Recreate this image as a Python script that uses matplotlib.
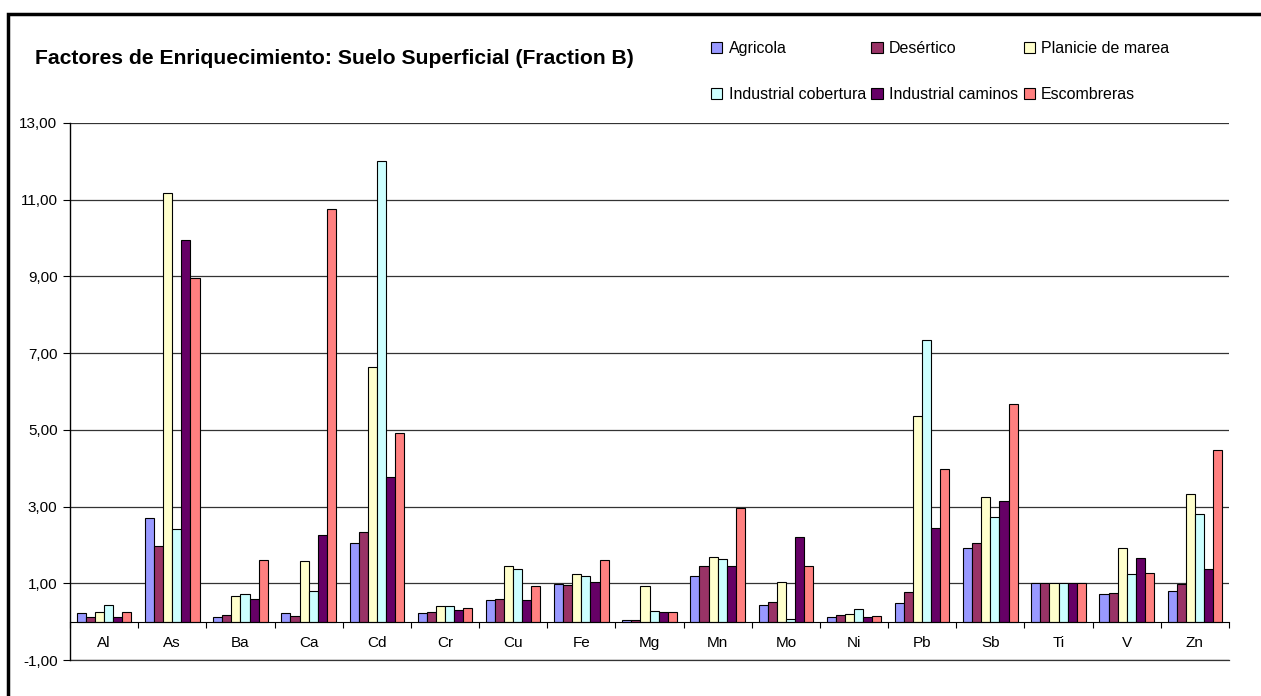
import numpy as np
import matplotlib
matplotlib.use("Agg")
import matplotlib.pyplot as plt
from matplotlib.patches import Rectangle
from matplotlib.ticker import FuncFormatter, FixedLocator

plt.rcParams['font.family'] = ['Liberation Sans', 'DejaVu Sans']

elements = ['Al', 'As', 'Ba', 'Ca', 'Cd', 'Cr', 'Cu', 'Fe', 'Mg', 'Mn',
            'Mo', 'Ni', 'Pb', 'Sb', 'Ti', 'V', 'Zn']

agricola     = [0.22, 2.69, 0.13, 0.22, 2.06, 0.22, 0.57, 0.98, 0.03, 1.20, 0.44, 0.13, 0.49, 1.93, 1.00, 0.71, 0.79]
desertico    = [0.13, 1.96, 0.17, 0.14, 2.34, 0.24, 0.60, 0.95, 0.03, 1.44, 0.52, 0.17, 0.76, 2.06, 1.00, 0.74, 0.98]
planicie     = [0.24, 11.18, 0.68, 1.57, 6.64, 0.42, 1.44, 1.25, 0.92, 1.69, 1.03, 0.20, 5.37, 3.26, 1.00, 1.91, 3.34]
ind_cobert   = [0.44, 2.42, 0.71, 0.79, 12.02, 0.42, 1.36, 1.20, 0.29, 1.63, 0.06, 0.33, 7.35, 2.74, 1.00, 1.25, 2.80]
ind_caminos  = [0.11, 9.96, 0.60, 2.25, 3.77, 0.30, 0.57, 1.03, 0.24, 1.46, 2.20, 0.11, 2.44, 3.15, 1.00, 1.66, 1.37]
escombreras  = [0.24, 8.95, 1.60, 10.76, 4.91, 0.35, 0.92, 1.60, 0.24, 2.96, 1.46, 0.16, 3.99, 5.68, 1.00, 1.28, 4.48]

series = [
    ('Agricola', agricola, '#9999FF'),
    ('Desértico', desertico, '#993366'),
    ('Planicie de marea', planicie, '#FFFFCC'),
    ('Industrial cobertura', ind_cobert, '#CCFFFF'),
    ('Industrial caminos', ind_caminos, '#660066'),
    ('Escombreras', escombreras, '#FF8080'),
]

W, H = 1261, 696
fig = plt.figure(figsize=(W / 100, H / 100), dpi=100)
ax = fig.add_axes([70 / W, 1 - 660 / H, (1229 - 70) / W, (660 - 123) / H])

x = np.arange(len(elements))
bw = 0.8 / len(series)
handles = []
for k, (name, vals, col) in enumerate(series):
    b = ax.bar(x - 0.4 + bw * (k + 0.5), vals, width=bw, color=col,
               edgecolor='black', linewidth=0.8, label=name, zorder=3)
    handles.append(b)

ax.set_xlim(-0.5, len(elements) - 0.5)
ax.set_ylim(-1, 13)
ax.set_yticks(np.arange(-1, 14, 2))
ax.yaxis.set_major_formatter(FuncFormatter(lambda v, p: f"{v:.2f}".replace('.', ',')))
ax.grid(axis='y', color='#333333', linewidth=0.9, zorder=0)
ax.set_axisbelow(True)
# bottom gridline sits on the axes edge, draw it unclipped
ax.axhline(-1, color='#333333', linewidth=0.9, clip_on=False, zorder=1)

for s in ['top', 'right']:
    ax.spines[s].set_visible(False)
ax.spines['bottom'].set_position(('data', 0))
ax.spines['bottom'].set_zorder(4)
ax.spines['left'].set_linewidth(1.0)

# category ticks between groups, labels under each group
ax.xaxis.set_major_locator(FixedLocator(np.arange(-0.5, len(elements), 1)))
ax.xaxis.set_major_formatter(FuncFormatter(lambda v, p: ''))
ax.xaxis.set_minor_locator(FixedLocator(x))
ax.set_xticklabels(elements, minor=True)
ax.tick_params(axis='x', which='major', length=4, width=0.8, direction='out')
ax.tick_params(axis='x', which='minor', length=0, pad=10, labelsize=11)
ax.tick_params(axis='y', length=5, width=0.8, labelsize=11, pad=4)

fig.text(35 / W, 1 - 58 / H, 'Factores de Enriquecimiento: Suelo Superficial (Fraction B)',
         fontsize=15.2, fontweight='bold', va='center', ha='left')

order = [0, 3, 1, 4, 2, 5]
fig.legend([handles[i] for i in order], [series[i][0] for i in order],
           ncol=3, loc='upper left', bbox_to_anchor=(703 / W, 1 - 33 / H),
           frameon=False, fontsize=11.5, handlelength=0.7, handleheight=0.7,
           handletextpad=0.4, columnspacing=0.35, labelspacing=1.95, borderpad=0)

fig.patches.append(Rectangle((8 / W, -0.1), 1.2, 1.1 - 14 / H, fill=False,
                             edgecolor='black', linewidth=2.5,
                             transform=fig.transFigure, figure=fig))

fig.savefig('out.png', dpi=100)
